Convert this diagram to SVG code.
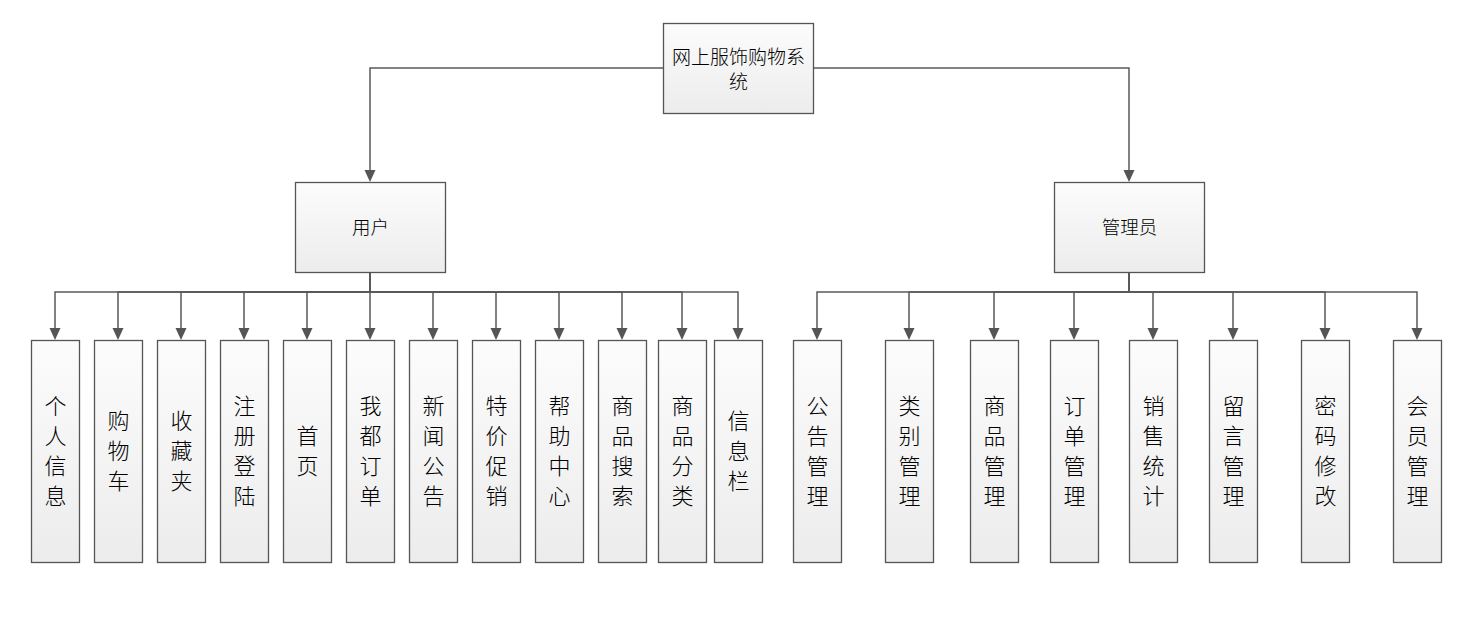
<svg xmlns="http://www.w3.org/2000/svg" width="1474" height="635" viewBox="0 0 1474 635">
<defs>
<linearGradient id="g" x1="0" y1="0" x2="0" y2="1">
<stop offset="0" stop-color="#fcfcfc"/>
<stop offset="1" stop-color="#ececec"/>
</linearGradient>
</defs>
<style>
.box{fill:url(#g);stroke:#555;stroke-width:1.3}
.t{font-family:"Noto Sans CJK SC","Noto Sans CJK JP",sans-serif;font-weight:300;fill:#000;text-anchor:middle}
.m{font-size:18.5px}
.top{font-size:19px}
.v{font-size:22px}
.c{fill:none;stroke:#595959;stroke-width:1.5}
.ah{fill:#555}
</style>
<rect width="1474" height="635" fill="#fff"/>
<g id="connectors">
<path class="c" d="M663,68 H370 V170"/>
<path class="c" d="M813,68 H1129 V170"/>
<path class="ah" d="M364.5,170 L375.5,170 L370,182 Z"/>
<path class="ah" d="M1123.5,170 L1134.5,170 L1129,182 Z"/>
<g id="user-links">
<path class="c" d="M370,272 V292 H55 V328"/>
<path class="c" d="M370,272 V292 H118 V328"/>
<path class="c" d="M370,272 V292 H181 V328"/>
<path class="c" d="M370,272 V292 H244 V328"/>
<path class="c" d="M370,272 V292 H307 V328"/>
<path class="c" d="M370,272 V328"/>
<path class="c" d="M370,272 V292 H433 V328"/>
<path class="c" d="M370,272 V292 H496 V328"/>
<path class="c" d="M370,272 V292 H559 V328"/>
<path class="c" d="M370,272 V292 H622 V328"/>
<path class="c" d="M370,272 V292 H682 V328"/>
<path class="c" d="M370,272 V292 H738 V328"/>
</g>
<g id="admin-links">
<path class="c" d="M1129,272 V292 H817 V328"/>
<path class="c" d="M1129,272 V292 H909 V328"/>
<path class="c" d="M1129,272 V292 H994 V328"/>
<path class="c" d="M1129,272 V292 H1074 V328"/>
<path class="c" d="M1129,272 V292 H1153 V328"/>
<path class="c" d="M1129,272 V292 H1233 V328"/>
<path class="c" d="M1129,272 V292 H1325 V328"/>
<path class="c" d="M1129,272 V292 H1417 V328"/>
</g>
<g id="arrowheads" class="ah">
<path d="M49.5,328 h11 l-5.5,12 z"/>
<path d="M112.5,328 h11 l-5.5,12 z"/>
<path d="M175.5,328 h11 l-5.5,12 z"/>
<path d="M238.5,328 h11 l-5.5,12 z"/>
<path d="M301.5,328 h11 l-5.5,12 z"/>
<path d="M364.5,328 h11 l-5.5,12 z"/>
<path d="M427.5,328 h11 l-5.5,12 z"/>
<path d="M490.5,328 h11 l-5.5,12 z"/>
<path d="M553.5,328 h11 l-5.5,12 z"/>
<path d="M616.5,328 h11 l-5.5,12 z"/>
<path d="M676.5,328 h11 l-5.5,12 z"/>
<path d="M732.5,328 h11 l-5.5,12 z"/>
<path d="M811.5,328 h11 l-5.5,12 z"/>
<path d="M903.5,328 h11 l-5.5,12 z"/>
<path d="M988.5,328 h11 l-5.5,12 z"/>
<path d="M1068.5,328 h11 l-5.5,12 z"/>
<path d="M1147.5,328 h11 l-5.5,12 z"/>
<path d="M1227.5,328 h11 l-5.5,12 z"/>
<path d="M1319.5,328 h11 l-5.5,12 z"/>
<path d="M1411.5,328 h11 l-5.5,12 z"/>
</g>
</g>
<g id="root">
<rect class="box" x="663.5" y="23.5" width="150" height="90"/>
<text class="t top" x="738.5" y="64">网上服饰购物系</text>
<text class="t top" x="738.5" y="89">统</text>
</g>
<g id="user">
<rect class="box" x="295.5" y="182.5" width="150" height="90"/>
<text class="t m" x="370.5" y="234">用户</text>
</g>
<g id="admin">
<rect class="box" x="1054.5" y="182.5" width="150" height="90"/>
<text class="t m" x="1129.5" y="234">管理员</text>
</g>
<g id="u1"><rect class="box" x="31.5" y="340.5" width="48" height="222"/><text class="t v"><tspan x="55.5" y="414">个</tspan><tspan x="55.5" y="444">人</tspan><tspan x="55.5" y="474">信</tspan><tspan x="55.5" y="504">息</tspan></text></g>
<g id="u2"><rect class="box" x="94.5" y="340.5" width="48" height="222"/><text class="t v"><tspan x="118.5" y="429">购</tspan><tspan x="118.5" y="459">物</tspan><tspan x="118.5" y="489">车</tspan></text></g>
<g id="u3"><rect class="box" x="157.5" y="340.5" width="48" height="222"/><text class="t v"><tspan x="181.5" y="429">收</tspan><tspan x="181.5" y="459">藏</tspan><tspan x="181.5" y="489">夹</tspan></text></g>
<g id="u4"><rect class="box" x="220.5" y="340.5" width="48" height="222"/><text class="t v"><tspan x="244.5" y="414">注</tspan><tspan x="244.5" y="444">册</tspan><tspan x="244.5" y="474">登</tspan><tspan x="244.5" y="504">陆</tspan></text></g>
<g id="u5"><rect class="box" x="283.5" y="340.5" width="48" height="222"/><text class="t v"><tspan x="307.5" y="444">首</tspan><tspan x="307.5" y="474">页</tspan></text></g>
<g id="u6"><rect class="box" x="346.5" y="340.5" width="48" height="222"/><text class="t v"><tspan x="370.5" y="414">我</tspan><tspan x="370.5" y="444">都</tspan><tspan x="370.5" y="474">订</tspan><tspan x="370.5" y="504">单</tspan></text></g>
<g id="u7"><rect class="box" x="409.5" y="340.5" width="48" height="222"/><text class="t v"><tspan x="433.5" y="414">新</tspan><tspan x="433.5" y="444">闻</tspan><tspan x="433.5" y="474">公</tspan><tspan x="433.5" y="504">告</tspan></text></g>
<g id="u8"><rect class="box" x="472.5" y="340.5" width="48" height="222"/><text class="t v"><tspan x="496.5" y="414">特</tspan><tspan x="496.5" y="444">价</tspan><tspan x="496.5" y="474">促</tspan><tspan x="496.5" y="504">销</tspan></text></g>
<g id="u9"><rect class="box" x="535.5" y="340.5" width="48" height="222"/><text class="t v"><tspan x="559.5" y="414">帮</tspan><tspan x="559.5" y="444">助</tspan><tspan x="559.5" y="474">中</tspan><tspan x="559.5" y="504">心</tspan></text></g>
<g id="u10"><rect class="box" x="598.5" y="340.5" width="48" height="222"/><text class="t v"><tspan x="622.5" y="414">商</tspan><tspan x="622.5" y="444">品</tspan><tspan x="622.5" y="474">搜</tspan><tspan x="622.5" y="504">索</tspan></text></g>
<g id="u11"><rect class="box" x="658.5" y="340.5" width="48" height="222"/><text class="t v"><tspan x="682.5" y="414">商</tspan><tspan x="682.5" y="444">品</tspan><tspan x="682.5" y="474">分</tspan><tspan x="682.5" y="504">类</tspan></text></g>
<g id="u12"><rect class="box" x="714.5" y="340.5" width="48" height="222"/><text class="t v"><tspan x="738.5" y="429">信</tspan><tspan x="738.5" y="459">息</tspan><tspan x="738.5" y="489">栏</tspan></text></g>
<g id="a1"><rect class="box" x="793.5" y="340.5" width="48" height="222"/><text class="t v"><tspan x="817.5" y="414">公</tspan><tspan x="817.5" y="444">告</tspan><tspan x="817.5" y="474">管</tspan><tspan x="817.5" y="504">理</tspan></text></g>
<g id="a2"><rect class="box" x="885.5" y="340.5" width="48" height="222"/><text class="t v"><tspan x="909.5" y="414">类</tspan><tspan x="909.5" y="444">别</tspan><tspan x="909.5" y="474">管</tspan><tspan x="909.5" y="504">理</tspan></text></g>
<g id="a3"><rect class="box" x="970.5" y="340.5" width="48" height="222"/><text class="t v"><tspan x="994.5" y="414">商</tspan><tspan x="994.5" y="444">品</tspan><tspan x="994.5" y="474">管</tspan><tspan x="994.5" y="504">理</tspan></text></g>
<g id="a4"><rect class="box" x="1050.5" y="340.5" width="48" height="222"/><text class="t v"><tspan x="1074.5" y="414">订</tspan><tspan x="1074.5" y="444">单</tspan><tspan x="1074.5" y="474">管</tspan><tspan x="1074.5" y="504">理</tspan></text></g>
<g id="a5"><rect class="box" x="1129.5" y="340.5" width="48" height="222"/><text class="t v"><tspan x="1153.5" y="414">销</tspan><tspan x="1153.5" y="444">售</tspan><tspan x="1153.5" y="474">统</tspan><tspan x="1153.5" y="504">计</tspan></text></g>
<g id="a6"><rect class="box" x="1209.5" y="340.5" width="48" height="222"/><text class="t v"><tspan x="1233.5" y="414">留</tspan><tspan x="1233.5" y="444">言</tspan><tspan x="1233.5" y="474">管</tspan><tspan x="1233.5" y="504">理</tspan></text></g>
<g id="a7"><rect class="box" x="1301.5" y="340.5" width="48" height="222"/><text class="t v"><tspan x="1325.5" y="414">密</tspan><tspan x="1325.5" y="444">码</tspan><tspan x="1325.5" y="474">修</tspan><tspan x="1325.5" y="504">改</tspan></text></g>
<g id="a8"><rect class="box" x="1393.5" y="340.5" width="48" height="222"/><text class="t v"><tspan x="1417.5" y="414">会</tspan><tspan x="1417.5" y="444">员</tspan><tspan x="1417.5" y="474">管</tspan><tspan x="1417.5" y="504">理</tspan></text></g>
</svg>
